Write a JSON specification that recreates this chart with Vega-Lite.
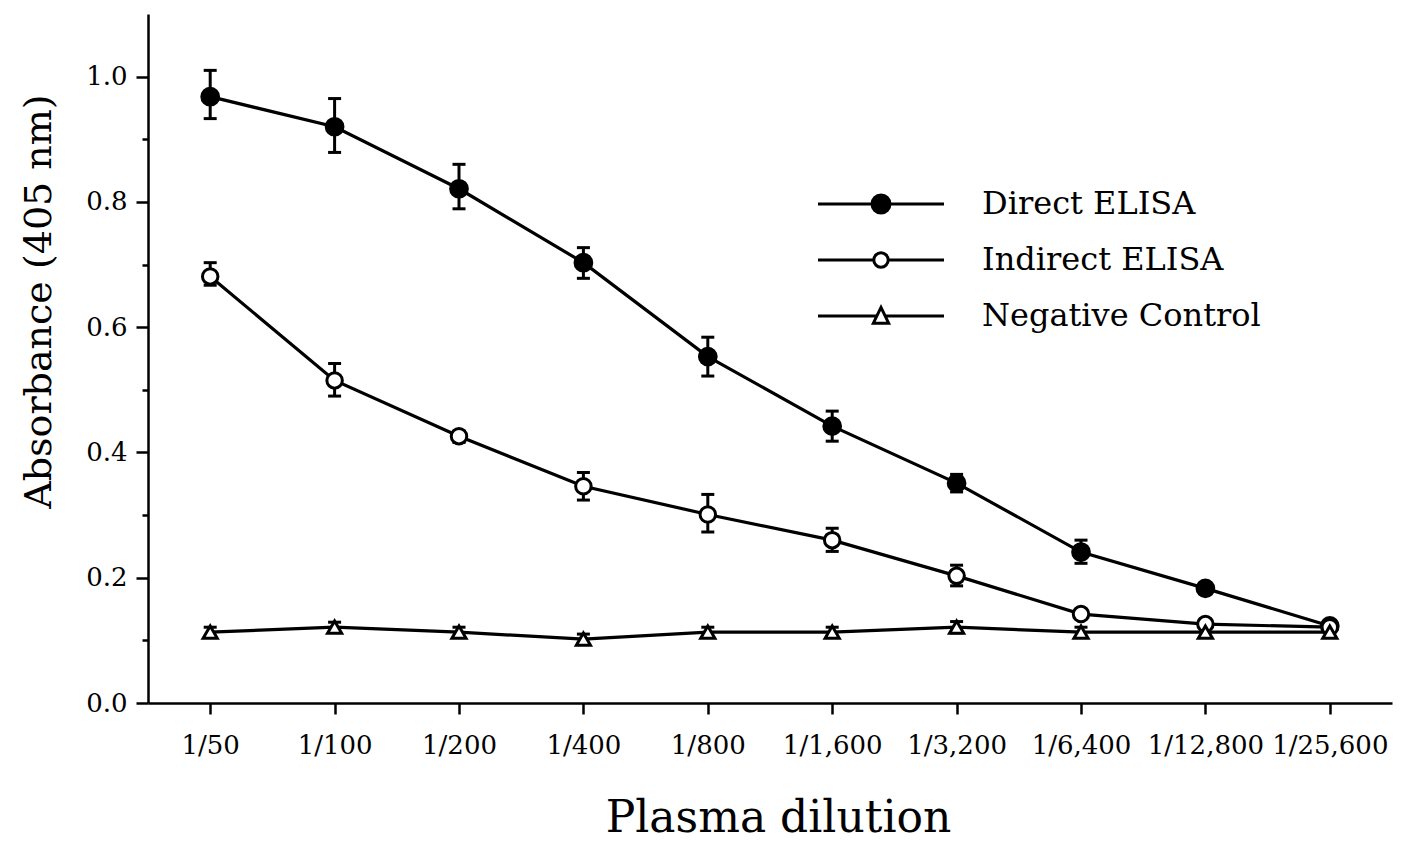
{
  "$schema": "https://vega.github.io/schema/vega-lite/v6.json",
  "width": 1244,
  "height": 689,
  "autosize": {"type": "none"},
  "padding": {"left": 148, "top": 14, "right": 9, "bottom": 138},
  "background": "white",
  "config": {
    "view": {"stroke": null},
    "font": "DejaVu Serif",
    "axis": {"grid": false, "domainColor": "black", "tickColor": "black", "labelColor": "black", "titleColor": "black", "labelFont": "DejaVu Serif", "titleFont": "DejaVu Serif", "titleFontWeight": "normal", "domainWidth": 2.5, "tickWidth": 2.5}
  },
  "data": {
    "values": [
      {"series": "Direct ELISA", "dilution": "1/50", "value": 0.968, "lo": 0.933, "hi": 1.010},
      {"series": "Direct ELISA", "dilution": "1/100", "value": 0.920, "lo": 0.879, "hi": 0.965},
      {"series": "Direct ELISA", "dilution": "1/200", "value": 0.821, "lo": 0.789, "hi": 0.860},
      {"series": "Direct ELISA", "dilution": "1/400", "value": 0.703, "lo": 0.678, "hi": 0.727},
      {"series": "Direct ELISA", "dilution": "1/800", "value": 0.553, "lo": 0.522, "hi": 0.584},
      {"series": "Direct ELISA", "dilution": "1/1,600", "value": 0.442, "lo": 0.418, "hi": 0.466},
      {"series": "Direct ELISA", "dilution": "1/3,200", "value": 0.351, "lo": 0.337, "hi": 0.365},
      {"series": "Direct ELISA", "dilution": "1/6,400", "value": 0.241, "lo": 0.223, "hi": 0.260},
      {"series": "Direct ELISA", "dilution": "1/12,800", "value": 0.183, "lo": 0.176, "hi": 0.190},
      {"series": "Direct ELISA", "dilution": "1/25,600", "value": 0.123, "lo": 0.116, "hi": 0.130},
      {"series": "Indirect ELISA", "dilution": "1/50", "value": 0.681, "lo": 0.667, "hi": 0.703},
      {"series": "Indirect ELISA", "dilution": "1/100", "value": 0.515, "lo": 0.490, "hi": 0.542},
      {"series": "Indirect ELISA", "dilution": "1/200", "value": 0.426, "lo": 0.416, "hi": 0.434},
      {"series": "Indirect ELISA", "dilution": "1/400", "value": 0.346, "lo": 0.324, "hi": 0.368},
      {"series": "Indirect ELISA", "dilution": "1/800", "value": 0.301, "lo": 0.273, "hi": 0.333},
      {"series": "Indirect ELISA", "dilution": "1/1,600", "value": 0.260, "lo": 0.242, "hi": 0.279},
      {"series": "Indirect ELISA", "dilution": "1/3,200", "value": 0.203, "lo": 0.187, "hi": 0.220},
      {"series": "Indirect ELISA", "dilution": "1/6,400", "value": 0.142, "lo": 0.136, "hi": 0.148},
      {"series": "Indirect ELISA", "dilution": "1/12,800", "value": 0.126, "lo": 0.120, "hi": 0.132},
      {"series": "Indirect ELISA", "dilution": "1/25,600", "value": 0.121, "lo": 0.115, "hi": 0.127},
      {"series": "Negative Control", "dilution": "1/50", "value": 0.113, "lo": 0.105, "hi": 0.121},
      {"series": "Negative Control", "dilution": "1/100", "value": 0.121, "lo": 0.113, "hi": 0.129},
      {"series": "Negative Control", "dilution": "1/200", "value": 0.113, "lo": 0.105, "hi": 0.121},
      {"series": "Negative Control", "dilution": "1/400", "value": 0.102, "lo": 0.094, "hi": 0.110},
      {"series": "Negative Control", "dilution": "1/800", "value": 0.113, "lo": 0.105, "hi": 0.121},
      {"series": "Negative Control", "dilution": "1/1,600", "value": 0.113, "lo": 0.105, "hi": 0.121},
      {"series": "Negative Control", "dilution": "1/3,200", "value": 0.121, "lo": 0.112, "hi": 0.130},
      {"series": "Negative Control", "dilution": "1/6,400", "value": 0.113, "lo": 0.105, "hi": 0.121},
      {"series": "Negative Control", "dilution": "1/12,800", "value": 0.113, "lo": 0.105, "hi": 0.121},
      {"series": "Negative Control", "dilution": "1/25,600", "value": 0.113, "lo": 0.105, "hi": 0.121}
    ]
  },
  "resolve": {"scale": {"shape": "independent", "fill": "independent", "size": "independent", "stroke": "independent"}},
  "encoding": {
    "x": {
      "field": "dilution",
      "type": "ordinal",
      "scale": {"type": "point", "padding": 0.5, "domain": ["1/50", "1/100", "1/200", "1/400", "1/800", "1/1,600", "1/3,200", "1/6,400", "1/12,800", "1/25,600"]},
      "axis": {
        "title": "Plasma dilution",
        "titleFontSize": 44,
        "titleX": 630,
        "titleY": 128,
        "titleBaseline": "alphabetic",
        "labelFontSize": 26,
        "labelAngle": 0,
        "labelBaseline": "alphabetic",
        "tickSize": 11,
        "labelPadding": 39
      }
    }
  },
  "layer": [
    {
      "mark": {"type": "line", "color": "black", "strokeWidth": 3.2},
      "encoding": {
        "y": {
          "field": "value",
          "type": "quantitative",
          "scale": {"domain": [0, 1.1], "nice": false},
          "axis": {
            "title": "Absorbance (405 nm)",
            "titleFontSize": 38,
            "titleX": -98,
            "titleY": 287,
            "titleAngle": 270,
            "titleAlign": "center",
            "titleBaseline": "alphabetic",
            "values": [0, 0.1, 0.2, 0.3, 0.4, 0.5, 0.6, 0.7, 0.8, 0.9, 1.0],
            "labelExpr": "round(datum.value * 10) % 2 == 0 ? format(datum.value, '.1f') : ''",
            "labelFontSize": 26,
            "tickSize": {"condition": {"test": "round(datum.value * 10) % 2 == 0", "value": 12}, "value": 6},
            "labelPadding": 9
          }
        },
        "detail": {"field": "series"}
      }
    },
    {
      "mark": {"type": "errorbar", "color": "black", "opacity": 1, "ticks": {"size": 13, "thickness": 3, "color": "black", "opacity": 1}, "rule": {"strokeWidth": 3, "color": "black", "opacity": 1}},
      "encoding": {
        "y": {"field": "lo", "type": "quantitative", "title": "Absorbance (405 nm)"},
        "y2": {"field": "hi"}
      }
    },
    {
      "mark": {"type": "point", "filled": true, "opacity": 1, "stroke": "black", "strokeWidth": 3},
      "encoding": {
        "y": {"field": "value", "type": "quantitative", "title": "Absorbance (405 nm)"},
        "shape": {
          "field": "series",
          "type": "nominal",
          "scale": {"domain": ["Direct ELISA", "Indirect ELISA", "Negative Control"], "range": ["circle", "circle", "triangle-up"]},
          "legend": null
        },
        "fill": {
          "field": "series",
          "type": "nominal",
          "scale": {"domain": ["Direct ELISA", "Indirect ELISA", "Negative Control"], "range": ["black", "white", "white"]},
          "legend": null
        },
        "size": {
          "field": "series",
          "type": "ordinal",
          "scale": {"domain": ["Direct ELISA", "Indirect ELISA", "Negative Control"], "range": [280, 200, 250]},
          "legend": null
        }
      }
    },
    {
      "transform": [{"filter": "datum.value < 0"}],
      "mark": {"type": "point", "filled": true, "opacity": 1, "stroke": "black", "strokeWidth": 3},
      "encoding": {
        "y": {"field": "value", "type": "quantitative", "title": "Absorbance (405 nm)"},
        "shape": {
          "field": "series",
          "type": "nominal",
          "scale": {
            "domain": ["Direct ELISA", "Indirect ELISA", "Negative Control"],
            "range": [
              "M-7,0H-0.9M0.9,0H7M-1,0A1,1 0 1,0 1,0A1,1 0 1,0 -1,0Z",
              "M-7,0H-0.8M0.8,0H7M-0.8,0A0.8,0.8 0 1,0 0.8,0A0.8,0.8 0 1,0 -0.8,0Z",
              "M-7,0H-0.5M0.5,0H7M0,-0.95L0.85,0.8L-0.85,0.8Z"
            ]
          },
          "legend": {
            "title": null,
            "orient": "none",
            "legendX": 717,
            "legendY": 174,
            "padding": 0,
            "symbolSize": 324,
            "symbolStrokeColor": "black",
            "symbolStrokeWidth": 3,
            "symbolOpacity": 1,
            "labelFont": "DejaVu Serif",
            "labelFontSize": 32,
            "labelColor": "black",
            "labelOffset": 85,
            "labelLimit": 500,
            "rowPadding": 24
          }
        },
        "fill": {
          "field": "series",
          "type": "nominal",
          "scale": {"domain": ["Direct ELISA", "Indirect ELISA", "Negative Control"], "range": ["black", "white", "white"]}
        },
        "stroke": {
          "field": "series",
          "type": "nominal",
          "scale": {"domain": ["Direct ELISA", "Indirect ELISA", "Negative Control"], "range": ["black", "black", "black"]}
        }
      }
    }
  ]
}
